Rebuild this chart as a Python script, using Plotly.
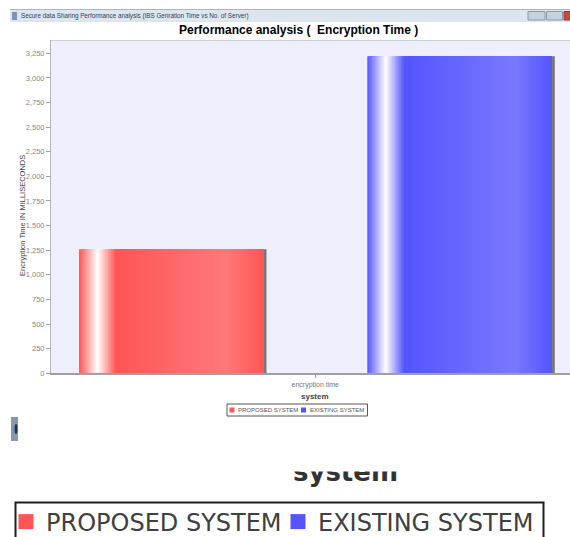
import plotly.graph_objects as go

W, H = 570, 537

# ---- data -------------------------------------------------------------
window_title = "Secure data Sharing Performance analysis (IBS Genration Time vs No. of Server)"
chart_title = "Performance analysis (  Encryption Time )"
category = ["encryption time"]
series_names = ["PROPOSED SYSTEM", "EXISTING SYSTEM"]
encryption_ms = [1260, 3220]
y_ticks = list(range(0, 3251, 250))
x_title = "system"
y_title = "Encryption Time IN MILLISECONDS"

# ---- style ------------------------------------------------------------
base_colors = [(255, 85, 85), (85, 85, 255)]
UNIT = 577.0                      # pixels spanned by one category
bar_left = [-236.25 / UNIT, 52.05 / UNIT]   # bar offsets from the category centre
bar_w = 184.5 / UNIT
SEGMENTS = 120


def px(x):
    return x / W


def py(y):
    return 1 - y / H


def rgb(c):
    return "rgb(%d,%d,%d)" % c


def brighter(c):
    return tuple(min(255, int(v / 0.7)) for v in c)


def mix(a, b, t):
    return tuple(round(a[i] + (b[i] - a[i]) * t) for i in range(3))


def shade(c0, t):
    """Horizontal highlight used on each bar: light stripe near the left edge."""
    c1 = brighter(c0)
    white = (255, 255, 255)
    if t < 0.10:
        return mix(c0, white, t / 0.10)
    if t < 0.20:
        return mix(white, c0, (t - 0.10) / 0.10)
    if t < 0.80:
        return mix(c0, c1, (t - 0.20) / 0.60)
    return mix(c1, c0, (t - 0.80) / 0.20)


fig = go.Figure()

for i, (name, value) in enumerate(zip(series_names, encryption_ms)):
    # drop shadow on the right of the bar
    fig.add_trace(go.Bar(
        x=category, y=[value], offset=bar_left[i] + 3 / UNIT, width=bar_w,
        marker=dict(color="rgb(120,120,120)", line=dict(width=0)),
        showlegend=False, hoverinfo="skip"))
    # the bar itself, painted as overlapping slices running to the right edge
    seg = bar_w / SEGMENTS
    offsets = [bar_left[i] + k * seg for k in range(SEGMENTS)]
    widths = [bar_left[i] + bar_w - o for o in offsets]
    colors = [rgb(shade(base_colors[i], (k + 0.5) / SEGMENTS)) for k in range(SEGMENTS)]
    fig.add_trace(go.Bar(
        x=category * SEGMENTS, y=[value] * SEGMENTS, offset=offsets, width=widths,
        marker=dict(color=colors, line=dict(width=0)),
        name=name, showlegend=False, hoverinfo="skip"))

# legend entries
for name, c in zip(series_names, base_colors):
    fig.add_trace(go.Scatter(
        x=[None], y=[None], mode="markers", name=name,
        marker=dict(symbol="square", size=15, color=rgb(c))))

# enlarged axis caption, clipped to a thin strip so only its lower part shows
fig.add_trace(go.Scatter(
    x=[345.5], y=[474], mode="text", text=["<b>" + x_title + "</b>"],
    textposition="middle center",
    textfont=dict(family="DejaVu Sans", size=26, color="#333333"),
    cliponaxis=True, xaxis="x2", yaxis="y2", showlegend=False, hoverinfo="skip"))

font = "Liberation Sans"

shapes = [
    # plot area background
    dict(type="rect", xref="x domain", yref="y domain", x0=0, x1=1, y0=0, y1=1,
         fillcolor="#eeeefd", line=dict(width=0), layer="below"),
    # window title bar
    dict(type="rect", xref="paper", yref="paper", x0=px(10), x1=px(571), y0=py(22), y1=py(9.5),
         fillcolor="#dde5ef", line=dict(width=0), layer="above"),
    dict(type="line", xref="paper", yref="paper", x0=px(10), x1=px(571), y0=py(9.5), y1=py(9.5),
         line=dict(color="#a9b6c8", width=1)),
    dict(type="rect", xref="paper", yref="paper", x0=px(12), x1=px(17), y0=py(20), y1=py(12),
         fillcolor="#7d93b5", line=dict(width=0)),
    dict(type="rect", xref="paper", yref="paper", x0=px(528), x1=px(545), y0=py(20), y1=py(11.5),
         fillcolor="#c7d1de", line=dict(color="#8a98ab", width=1)),
    dict(type="rect", xref="paper", yref="paper", x0=px(546.5), x1=px(562.5), y0=py(20), y1=py(11.5),
         fillcolor="#c7d1de", line=dict(color="#8a98ab", width=1)),
    dict(type="rect", xref="paper", yref="paper", x0=px(564), x1=px(572), y0=py(20), y1=py(11.5),
         fillcolor="#c8493c", line=dict(color="#8a3a30", width=1)),
    # top border of plot area
    dict(type="line", xref="paper", yref="paper", x0=px(51), x1=px(570), y0=py(40.5), y1=py(40.5),
         line=dict(color="#cfcfd8", width=1)),
    # small legend
    dict(type="rect", xref="paper", yref="paper", x0=px(227), x1=px(367.5), y0=py(416), y1=py(404),
         fillcolor="white", line=dict(color="#555555", width=1)),
    dict(type="rect", xref="paper", yref="paper", x0=px(229.5), x1=px(234.5), y0=py(412.5), y1=py(407.5),
         fillcolor=rgb(base_colors[0]), line=dict(width=0)),
    dict(type="rect", xref="paper", yref="paper", x0=px(301), x1=px(306), y0=py(412.5), y1=py(407.5),
         fillcolor=rgb(base_colors[1]), line=dict(width=0)),
    # small window icon on the left
    dict(type="rect", xref="paper", yref="paper", x0=px(11), x1=px(18), y0=py(441), y1=py(417),
         fillcolor="#8797b0", line=dict(width=0)),
    dict(type="circle", xref="paper", yref="paper", x0=px(14.5), x1=px(17.5), y0=py(434), y1=py(424),
         fillcolor="#243656", line=dict(width=0)),
    # large legend frame
    dict(type="rect", xref="paper", yref="paper", x0=px(15.5), x1=px(543.5), y0=py(560), y1=py(502.5),
         fillcolor="rgba(0,0,0,0)", line=dict(color="#1e1e1e", width=2)),
]

annotations = [
    dict(x=px(19), y=py(15.8), xref="paper", yref="paper", text=window_title, showarrow=False,
         xanchor="left", yanchor="middle", font=dict(family=font, size=6.3, color="#2c3e5c")),
    dict(x=px(298), y=py(30), xref="paper", yref="paper", text="<b>" + chart_title + "</b>",
         showarrow=False, xanchor="center", yanchor="middle",
         font=dict(family=font, size=12, color="#000000")),
    dict(x=px(22), y=py(216), xref="paper", yref="paper", text=y_title, textangle=-90,
         showarrow=False, xanchor="center", yanchor="middle",
         font=dict(family=font, size=7.5, color="#444444")),
    dict(x=px(315), y=py(396), xref="paper", yref="paper", text="<b>" + x_title + "</b>",
         showarrow=False, xanchor="center", yanchor="middle",
         font=dict(family=font, size=8, color="#444444")),
    dict(x=px(236), y=py(410), xref="paper", yref="paper", text=series_names[0], showarrow=False,
         xanchor="left", yanchor="middle", font=dict(family=font, size=6.0, color="#555555")),
    dict(x=px(307.5), y=py(410), xref="paper", yref="paper", text=series_names[1], showarrow=False,
         xanchor="left", yanchor="middle", font=dict(family=font, size=6.0, color="#555555")),
]

fig.update_layout(
    width=W, height=H, autosize=False,
    margin=dict(l=0, r=0, t=0, b=0, pad=0, autoexpand=False),
    paper_bgcolor="white",
    plot_bgcolor="white",
    barmode="overlay",
    showlegend=True,
    legend=dict(orientation="h", x=px(6), y=py(522), xanchor="left", yanchor="middle",
                entrywidth=227, entrywidthmode="pixels",
                font=dict(family="DejaVu Sans", size=24, color="#404040"),
                bgcolor="rgba(0,0,0,0)", borderwidth=0, itemclick=False),
    xaxis=dict(type="category", domain=[px(51), 1],
               range=[-264.25 / UNIT, (570 - 315.25) / UNIT],
               showline=True, linecolor="#a0a0a0", linewidth=2,
               ticks="outside", ticklen=3, tickcolor="#a0a0a0",
               tickfont=dict(family=font, size=7, color="#777777"),
               showgrid=False, zeroline=False, fixedrange=True),
    yaxis=dict(domain=[py(373.3), py(40)], range=[0, 3385],
               tickmode="array", tickvals=y_ticks, tickformat=",",
               showline=True, linecolor="#b4b4b8", linewidth=1,
               ticks="outside", ticklen=4, tickcolor="#a0a0a0",
               tickfont=dict(family=font, size=7.5, color="#888888"),
               showgrid=False, zeroline=False, fixedrange=True),
    # thin strip used only to crop the enlarged caption
    xaxis2=dict(domain=[0, 1], range=[0, W], anchor="y2", visible=False, fixedrange=True),
    yaxis2=dict(domain=[py(487), py(471.5)], range=[487, 471.5], anchor="x2",
                visible=False, fixedrange=True),
    shapes=shapes,
    annotations=annotations,
)

fig.write_html("out.html", config={"responsive": False, "displayModeBar": False})
